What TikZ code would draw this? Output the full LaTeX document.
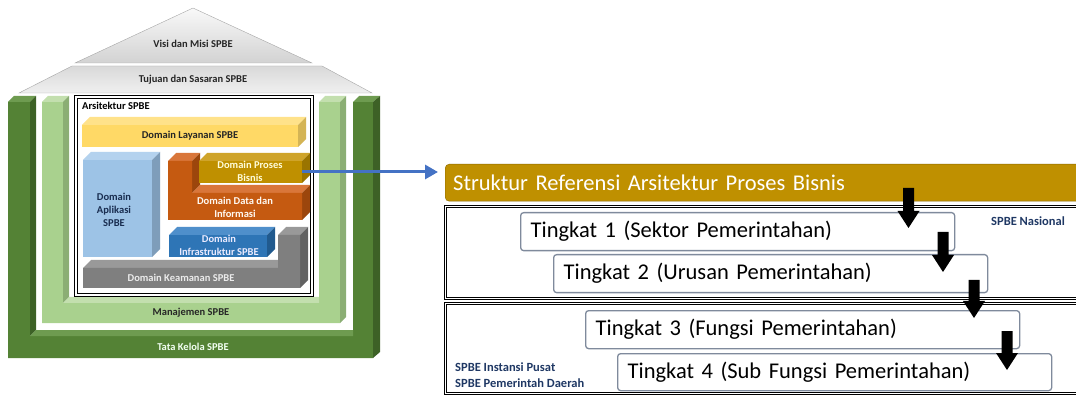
\documentclass[tikz,border=0pt]{standalone}
\usepackage{fontspec}
\setmainfont{Carlito}
\usetikzlibrary{arrows.meta,calc}
\definecolor{dkgF}{HTML}{548235}
\definecolor{dkgS}{HTML}{3D6126}
\definecolor{dkgT}{HTML}{6E9B50}
\definecolor{lgF}{HTML}{A9D18E}
\definecolor{lgS}{HTML}{8BAE74}
\definecolor{lgT}{HTML}{C3DFAE}
\definecolor{ylF}{HTML}{FFD966}
\definecolor{ylT}{HTML}{FFE28A}
\definecolor{ylS}{HTML}{D4B455}
\definecolor{abF}{HTML}{9DC3E6}
\definecolor{abT}{HTML}{B4D2EE}
\definecolor{abS}{HTML}{7E9DBA}
\definecolor{pbF}{HTML}{BF9000}
\definecolor{pbT}{HTML}{CFA42A}
\definecolor{pbS}{HTML}{9A7400}
\definecolor{orF}{HTML}{C55A11}
\definecolor{orT}{HTML}{D9763A}
\definecolor{orS}{HTML}{9C460C}
\definecolor{blF}{HTML}{2E75B6}
\definecolor{blT}{HTML}{4F8FCB}
\definecolor{blS}{HTML}{215A8E}
\definecolor{gyF}{HTML}{7F7F7F}
\definecolor{gyT}{HTML}{999999}
\definecolor{gyS}{HTML}{626262}
\definecolor{navy}{HTML}{1F3864}
\definecolor{arrowblue}{HTML}{4472C4}
\definecolor{tborder}{HTML}{7F8A9C}
\definecolor{hdrborder}{HTML}{8A6800}
\newcommand\blkarr[2]{\fill[black] ($(#1)+(-5.5,0)$) -- ($(#1)+(5.5,0)$) -- ($(#2)+(5.5,-17)$) -- ($(#2)+(11,-17)$) -- (#2) -- ($(#2)+(-11,-17)$) -- ($(#2)+(-5.5,-17)$) -- cycle;}
\tikzset{
 hlabel/.style={font=\fontsize{10.5}{13}\selectfont\bfseries, align=center, inner sep=0pt},
 face/.style={inner sep=0pt, draw=none},
 tbox/.style={draw=tborder, line width=1.3pt, rounded corners=3pt, fill=white, minimum height=38pt, text width=414pt, inner xsep=10pt, inner ysep=0pt, align=left, anchor=north west, font=\fontsize{22.5}{26}\selectfont},
 dbox/.style={draw=black, double=white, double distance=1.6pt, line width=0.8pt},
 note/.style={font=\fontsize{12.5}{16}\selectfont\bfseries, text=navy, inner sep=0pt, align=left},
}
\begin{document}
\begin{tikzpicture}[x=1pt,y=-1pt]
\useasboundingbox (0,0) rectangle (1076,395);
% roof
\draw[gray!70, top color=gray!5, bottom color=gray!35] (193,8) -- (312,63) -- (75,63) -- cycle;
\node[hlabel, text=black!85] (visi) at (193,44) {Visi dan Misi SPBE};
\draw[gray!70, top color=gray!30, bottom color=gray!12] (72,66) -- (322,66) -- (372,93) -- (19,93) -- cycle;
\node[hlabel, text=black!85] (tujuan) at (193,80) {Tujuan dan Sasaran SPBE};
% dark green U
\fill[dkgF] (8,102) -- (30,102) -- (30,336) -- (353,336) -- (353,102) -- (373,102) -- (373,358) -- (8,358) -- cycle;
\fill[dkgT] (8,102) -- (14,96) -- (36,96) -- (30,102) -- cycle;
\fill[dkgS] (30,102) -- (36,96) -- (36,330) -- (30,336) -- cycle;
\fill[dkgT] (30,336) -- (36,330) -- (353,330) -- (353,336) -- cycle;
\fill[dkgT] (353,102) -- (359,96) -- (380,96) -- (373,102) -- cycle;
\fill[dkgS] (373,102) -- (380,96) -- (380,352) -- (373,358) -- cycle;
% light green U
\fill[lgF] (42,102) -- (63,102) -- (63,303) -- (319,303) -- (319,102) -- (340,102) -- (340,323) -- (42,323) -- cycle;
\fill[lgT] (42,102) -- (48,96) -- (69,96) -- (63,102) -- cycle;
\fill[lgS] (63,102) -- (69,96) -- (69,297) -- (63,303) -- cycle;
\fill[lgT] (63,303) -- (69,297) -- (319,297) -- (319,303) -- cycle;
\fill[lgT] (319,102) -- (325,96) -- (346,96) -- (340,102) -- cycle;
\fill[lgS] (340,102) -- (346,96) -- (346,317) -- (340,323) -- cycle;
\node[hlabel, text=black!85] (manajemen) at (191,313) {Manajemen SPBE};
\node[hlabel, text=white!95!green] (tatakelola) at (193,347) {Tata Kelola SPBE};
% arsitektur box
\draw[dbox, fill=white] (76,97) rectangle (312,295);
\node[hlabel, anchor=west, text=black] (arsi) at (82,106) {Arsitektur SPBE};
% layanan
\fill[ylT] (82,125) -- (90,117) -- (306,117) -- (298,125) -- cycle;
\fill[ylS] (298,125) -- (306,117) -- (306,139) -- (298,147) -- cycle;
\node[face, hlabel, fill=ylF, text=black!85, minimum width=216pt, minimum height=22pt] (layanan) at (190,136) {Domain Layanan SPBE};
% aplikasi
\fill[abT] (83,160) -- (91,152) -- (160,152) -- (152,160) -- cycle;
\fill[abS] (152,160) -- (160,152) -- (160,249) -- (152,257) -- cycle;
\node[face, fill=abF, minimum width=69pt, minimum height=97pt] (aplikasi) at (117.5,208.5) {};
\node[hlabel, text=navy!80!black] (aplikasiT) at (114,210) {Domain\\Aplikasi\\SPBE};
% data dan informasi
\fill[orT] (168,161) -- (176,153) -- (200,153) -- (192,161) -- cycle;
\fill[orS] (192,161) -- (200,153) -- (200,185) -- (192,193) -- cycle;
\fill[orT] (192,193) -- (200,185) -- (310,185) -- (302,193) -- cycle;
\fill[orS] (302,193) -- (310,185) -- (310,212) -- (302,220) -- cycle;
\fill[orF] (168,161) -- (192,161) -- (192,193) -- (302,193) -- (302,220) -- (168,220) -- cycle;
\node[hlabel, text=white!95!orange] (data) at (235,207) {Domain Data dan\\Informasi};
% proses bisnis
\fill[pbT] (199,161) -- (207,153) -- (310,153) -- (302,161) -- cycle;
\fill[pbS] (302,161) -- (310,153) -- (310,175) -- (302,183) -- cycle;
\node[face, fill=pbF, minimum width=103pt, minimum height=22pt] (pb) at (250.5,172) {};
\node[hlabel, text=white!85!yellow] (pbT) at (250,171) {Domain Proses\\Bisnis};
% infrastruktur
\fill[blT] (169,235) -- (177,227) -- (275,227) -- (267,235) -- cycle;
\fill[blS] (267,235) -- (275,227) -- (275,249) -- (267,257) -- cycle;
\node[face, fill=blF, minimum width=98pt, minimum height=22pt] (infra) at (218,246) {};
\node[hlabel, text=white!92!blue] (infraT) at (219,245) {Domain\\Infrastruktur SPBE};
% keamanan
\fill[gyT] (83,268) -- (91,260) -- (286,260) -- (278,268) -- cycle;
\fill[gyT] (278,235) -- (286,227) -- (308,227) -- (300,235) -- cycle;
\fill[gyS] (300,235) -- (308,227) -- (308,280) -- (300,288) -- cycle;
\fill[gyF] (83,268) -- (278,268) -- (278,235) -- (300,235) -- (300,288) -- (83,288) -- cycle;
\node[hlabel, text=white!92!black] (keamanan) at (181,278) {Domain Keamanan SPBE};
% right side
\node[draw=hdrborder, fill=pbF, rounded corners=4pt, minimum width=645pt, minimum height=37pt, text width=629pt, inner xsep=8pt, inner ysep=0pt, align=left, anchor=north west, text=white, font=\fontsize{22.5}{26}\selectfont] (header) at (445,164) {Struktur Referensi Arsitektur Proses Bisnis};
\draw[arrowblue, line width=3pt, shorten >=7pt, -{Triangle[length=13pt,width=14pt]}] (pb.east) -- (pb.east -| header.west);
\node[dbox, minimum width=650pt, minimum height=92pt, anchor=north west, inner sep=0pt] (nasional) at (445,206) {};
\node[dbox, minimum width=650pt, minimum height=90pt, anchor=north west, inner sep=0pt] (daerah) at (445,303) {};
\node[note, anchor=west] (nasT) at (991,221) {SPBE Nasional};
\node[note, anchor=west] (daerahT) at (455,375) {SPBE Instansi Pusat\\SPBE Pemerintah Daerah};
\node[tbox] (t1) at (520,212) {Tingkat 1 (Sektor Pemerintahan)};
\node[tbox] (t2) at (553,254) {Tingkat 2 (Urusan Pemerintahan)};
\node[tbox] (t3) at (585,310) {Tingkat 3 (Fungsi Pemerintahan)};
\node[tbox, minimum height=37pt] (t4) at (617,353) {Tingkat 4 (Sub Fungsi Pemerintahan)};
\coordinate (a1s) at (908.5,188);
\coordinate (a1e) at (908.5,228);
\coordinate (a2s) at (943,232);
\coordinate (a2e) at (943,272);
\coordinate (a3s) at (974,280);
\coordinate (a3e) at (974,318);
\coordinate (a4s) at (1007,331);
\coordinate (a4e) at (1007,370);
\blkarr{a1s}{a1e}
\blkarr{a2s}{a2e}
\blkarr{a3s}{a3e}
\blkarr{a4s}{a4e}
\end{tikzpicture}
\end{document}
